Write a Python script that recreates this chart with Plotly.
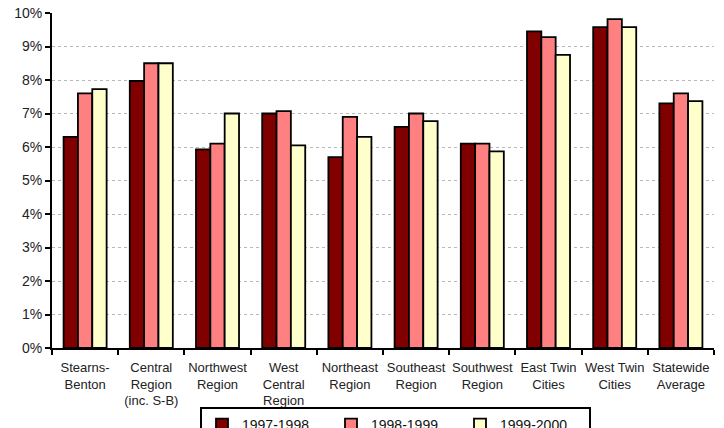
import plotly.graph_objects as go

regions = [
    "Stearns-<br>Benton",
    "Central<br>Region<br>(inc. S-B)",
    "Northwest<br>Region",
    "West<br>Central<br>Region",
    "Northeast<br>Region",
    "Southeast<br>Region",
    "Southwest<br>Region",
    "East Twin<br>Cities",
    "West Twin<br>Cities",
    "Statewide<br>Average",
]

rate_1997_1998 = [6.3, 7.97, 5.93, 7.0, 5.7, 6.6, 6.1, 9.45, 9.58, 7.3]
rate_1998_1999 = [7.6, 8.5, 6.1, 7.07, 6.9, 7.0, 6.1, 9.28, 9.82, 7.6]
rate_1999_2000 = [7.73, 8.5, 7.0, 6.05, 6.3, 6.77, 5.87, 8.75, 9.58, 7.37]

series = [
    ("1997-1998", rate_1997_1998, "#800000"),
    ("1998-1999", rate_1998_1999, "#FF8080"),
    ("1999-2000", rate_1999_2000, "#FFFFCC"),
]

fig = go.Figure()
for name, vals, color in series:
    fig.add_trace(go.Bar(
        x=regions, y=vals, name=name,
        marker=dict(color=color, line=dict(color="black", width=1.8)),
    ))

font_family = "Liberation Sans, Arial, sans-serif"

fig.update_layout(
    width=724, height=428,
    margin=dict(l=52, r=10, t=13, b=80, autoexpand=False),
    plot_bgcolor="white", paper_bgcolor="white",
    barmode="group", bargap=0.35, bargroupgap=0,
    font=dict(family=font_family, size=13, color="#222222"),
    showlegend=True,
    legend=dict(
        orientation="h",
        x=200 / 724, xref="container", xanchor="left",
        y=(428 - 407) / 428, yref="container", yanchor="top",
        bordercolor="black", borderwidth=2,
        bgcolor="white",
        font=dict(size=14, color="#111111"),
        entrywidth=84, itemwidth=30,
        traceorder="normal",
    ),
)

fig.update_xaxes(
    automargin=False, tickangle=0,
    showline=True, linecolor="black", linewidth=2,
    ticks="outside", tickson="boundaries", ticklen=5, tickwidth=2, tickcolor="black",
    ticklabelstandoff=6,
    showgrid=False,
    tickfont=dict(size=13, color="#222222"),
)

fig.update_yaxes(
    automargin=False,
    range=[0, 10], dtick=1, ticksuffix="%",
    showline=True, linecolor="black", linewidth=2,
    ticks="outside", ticklen=5, tickwidth=2, tickcolor="black",
    showgrid=True, gridcolor="#b8b8b8", griddash="dot", gridwidth=1,
    zeroline=False,
    tickfont=dict(size=14, color="#222222"),
)

fig.write_html("out.html")
